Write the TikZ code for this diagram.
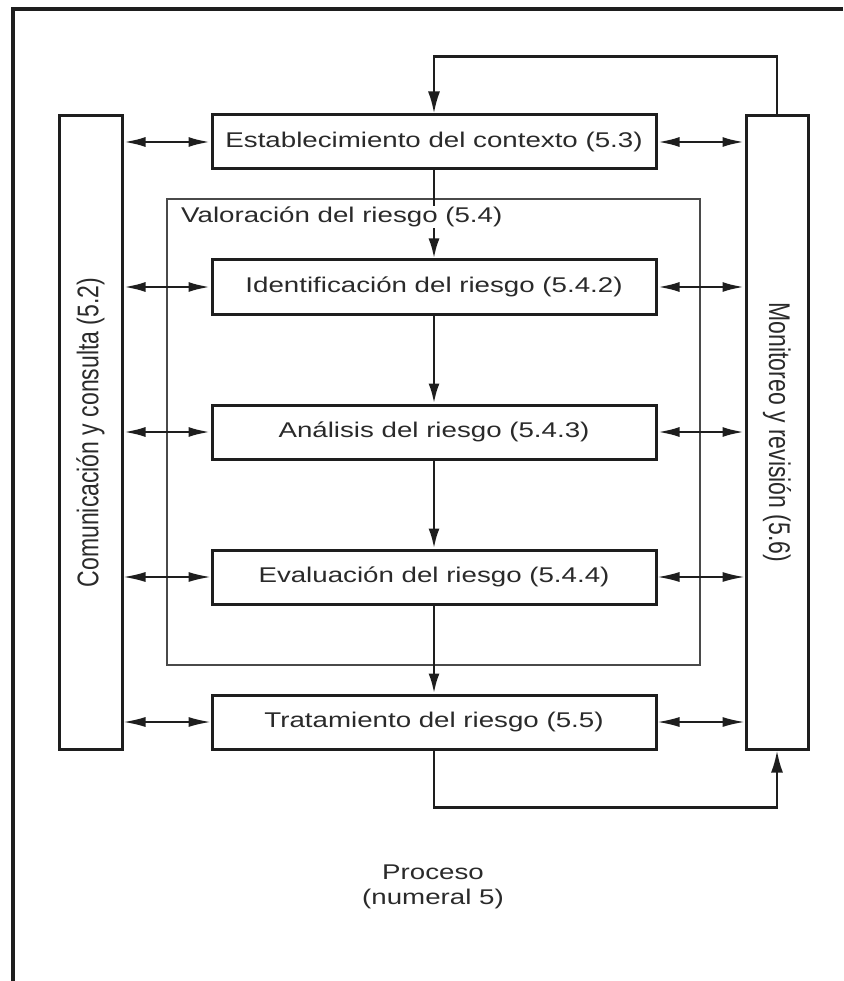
\documentclass[tikz,border=0pt]{standalone}
\usepackage{fontspec}
\usepackage{graphicx}
\setmainfont{Liberation Sans}[FakeStretch=1.3]
\newfontfamily\vfont{Liberation Sans}
\usetikzlibrary{arrows.meta}
\definecolor{ink}{HTML}{1E1E1E}
\definecolor{txt}{HTML}{2A2A2A}
\definecolor{valc}{HTML}{4A4A4A}
\begin{document}
\begin{tikzpicture}[x=1pt,y=-1pt,
  cbox/.style={draw=ink, line width=3pt, fill=white, minimum width=444pt, minimum height=54pt,
    inner sep=0pt, font=\fontsize{21.3}{25}\selectfont, text=txt},
  side/.style={draw=ink, line width=3pt, minimum width=63pt, minimum height=633pt, inner sep=0pt},
  vtext/.style={font=\vfont\fontsize{23}{27}\selectfont, text=txt, inner sep=0pt},
  dblthick/.style={line width=2.8pt, draw=ink, {Latex[length=22pt,width=10pt]}-{Latex[length=22pt,width=10pt]}},
  dblthin/.style={line width=1.7pt, draw=ink, {Latex[length=22pt,width=10pt]}-{Latex[length=22pt,width=10pt]}},
  down/.style={line width=2.8pt, draw=ink, -{Latex[length=20pt,width=11pt]}},
  loop/.style={line width=2.4pt, draw=ink, -{Latex[length=22pt,width=12pt]}},
  plain/.style={font=\fontsize{21.3}{25}\selectfont, text=txt, inner sep=0pt}
]
\useasboundingbox (0,0) rectangle (843,981);
% outer frame
\draw[line width=3.2pt, draw=ink] (13,981) -- (13,9) -- (843,9);

% assessment frame
\node[draw=valc, line width=2.5pt, minimum width=533pt, minimum height=466pt, inner sep=0pt] (val) at (433.5,432) {};

% side boxes
\node[side] (lbox) at (90.5,432.5) {};
\node[side, minimum width=62pt] (rbox) at (777,432.5) {};
\node[vtext, rotate=90] (ltext) at (lbox.center) {\scalebox{1}[1.3]{Comunicación y consulta (5.2)}};
\node[vtext, rotate=-90] (rtext) at (rbox.center) {\scalebox{1}[1.3]{Monitoreo y revisión (5.6)}};

% central boxes
\node[cbox] (est) at (434,142) {Establecimiento del contexto (5.3)};
\node[cbox] (ide) at (434,287) {Identificación del riesgo (5.4.2)};
\node[cbox] (ana) at (434,432) {Análisis del riesgo (5.4.3)};
\node[cbox] (eva) at (434,577) {Evaluación del riesgo (5.4.4)};
\node[cbox] (tra) at (434,722) {Tratamiento del riesgo (5.5)};

% vertical flow
\draw[down] (est.south) -- (ide.north);
\draw[down] (ide.south) -- (ana.north);
\draw[down] (ana.south) -- (eva.north);
\draw[down] (eva.south) -- (tra.north);

\node[plain, fill=white, inner sep=1pt, anchor=base west] (vallabel) at (180,223) {Valoración del riesgo (5.4)};

% side connectors
\draw[dblthick] (lbox.east |- est) -- (est.west);
\draw[dblthick] (est.east) -- (rbox.west |- est);
\draw[dblthick] (lbox.east |- ide) -- (ide.west);
\draw[dblthick] (ide.east) -- (rbox.west |- ide);
\draw[dblthick] (lbox.east |- ana) -- (ana.west);
\draw[dblthick] (ana.east) -- (rbox.west |- ana);
\draw[dblthin] (lbox.east |- eva) -- (eva.west);
\draw[dblthin] (eva.east) -- (rbox.west |- eva);
\draw[dblthin] (lbox.east |- tra) -- (tra.west);
\draw[dblthin] (tra.east) -- (rbox.west |- tra);

% feedback loops
\draw[loop] (rbox.north) -- ++(0,-58) -| (est.north);
\draw[loop] (tra.south) -- ++(0,57) -| (rbox.south);

% caption
\node[plain, align=center] (proc) at (433,887) {Proceso\\(numeral 5)};
\end{tikzpicture}
\end{document}
